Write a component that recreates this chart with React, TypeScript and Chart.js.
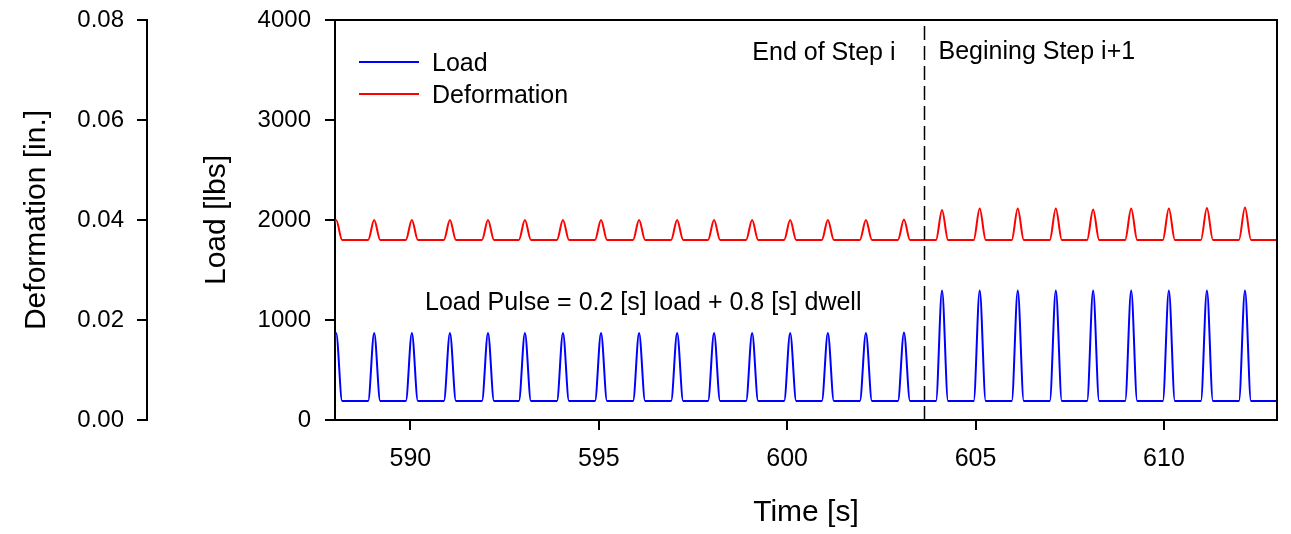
import React, { useEffect, useRef } from "react";
import { Chart, registerables } from "chart.js";

Chart.register(...registerables);

// ---------------- data ----------------
const timeTicks = [590, 595, 600, 605, 610];
const loadTicks = [0, 1000, 2000, 3000, 4000];
const deformationTicks = [0, 0.02, 0.04, 0.06, 0.08];

// peak time of each load pulse [s]
const pulseTimes = [
  588.03, 589.04, 590.04, 591.05, 592.06, 593.04, 594.05, 595.06, 596.07, 597.08,
  598.06, 599.07, 600.08, 601.08, 602.09, 603.1,
  604.11, 605.11, 606.12, 607.13, 608.12, 609.13, 610.13, 611.14, 612.15,
];
// peak load of each pulse [lbs]
const loadPeaks = [
  870, 870, 870, 870, 870, 870, 870, 870, 870, 870, 870, 870, 870, 870, 870, 875,
  1295, 1295, 1295, 1295, 1295, 1295, 1295, 1295, 1295,
];
// peak deformation of each pulse [in.]
const deformationPeaks = [
  0.04, 0.04, 0.04, 0.04, 0.04, 0.04, 0.04, 0.04, 0.04, 0.04, 0.04, 0.04, 0.04, 0.04, 0.04, 0.0401,
  0.042, 0.0423, 0.0423, 0.0423, 0.0421, 0.0423, 0.0423, 0.0424, 0.0425,
];
const loadBaseline = 190; // lbs (dwell load)
const deformationBaseline = 0.036; // in.
const pulseHalfWidth = 0.16; // s, half of pulse base
const recordStart = 587.5;
const recordEnd = 613.5;
const stepTime = 603.63; // s, change of step

const seriesNames = ["Load", "Deformation"];
const endLabel = "End of Step i";
const beginLabel = "Begining Step i+1";
const pulseNote = "Load Pulse = 0.2 [s] load + 0.8 [s] dwell";
const pulseNoteAt = { x: 590.39, y: 1100 };
const stepLabelLoad = 3600;

// ---------------- helpers ----------------
const FONT = '"Liberation Sans", Arial, Helvetica, sans-serif';

function buildSeries(base: number, peaks: number[]) {
  const pts: { x: number; y: number }[] = [{ x: recordStart, y: base }];
  pulseTimes.forEach((t, i) => {
    pts.push({ x: t - pulseHalfWidth, y: base });
    pts.push({ x: t, y: peaks[i] });
    pts.push({ x: t + pulseHalfWidth, y: base });
  });
  pts.push({ x: recordEnd, y: base });
  return pts;
}

const decorPlugin = {
  id: "decor",
  afterDatasetsDraw(chart: any) {
    const { ctx, chartArea, scales } = chart;
    const { left, right, top, bottom } = chartArea;
    ctx.save();
    // frame: top + right
    ctx.strokeStyle = "#000";
    ctx.lineWidth = 2;
    ctx.beginPath();
    ctx.moveTo(left - 1, top);
    ctx.lineTo(right, top);
    ctx.lineTo(right, bottom + 1);
    ctx.stroke();

    // dashed step line (drawn from the bottom up, so it starts solid at the axis)
    const xs = Math.round(scales.x.getPixelForValue(stepTime)) + 0.5;
    ctx.lineWidth = 1.5;
    ctx.setLineDash([14, 6]);
    ctx.beginPath();
    ctx.moveTo(xs, bottom);
    ctx.lineTo(xs, top);
    ctx.stroke();
    ctx.setLineDash([]);

    // annotations
    ctx.fillStyle = "#000";
    ctx.font = `25px ${FONT}`;
    ctx.textBaseline = "alphabetic";
    const ys = scales.y.getPixelForValue(stepLabelLoad);
    ctx.textAlign = "right";
    ctx.fillText(endLabel, xs - 29, ys);
    ctx.textAlign = "left";
    ctx.fillText(beginLabel, xs + 14, ys - 1.5);
    ctx.fillText(
      pulseNote,
      scales.x.getPixelForValue(pulseNoteAt.x),
      scales.y.getPixelForValue(pulseNoteAt.y)
    );

    // legend
    const ds = chart.data.datasets;
    ds.forEach((d: any, i: number) => {
      const y = top + 42 + i * 32;
      ctx.strokeStyle = d.borderColor;
      ctx.lineWidth = 2;
      ctx.beginPath();
      ctx.moveTo(left + 24, y);
      ctx.lineTo(left + 84, y);
      ctx.stroke();
      ctx.fillStyle = "#000";
      ctx.textAlign = "left";
      ctx.fillText(d.label, left + 97, y + 9);
    });
    ctx.restore();
  },
};

function fixSize(w: number | null, h: number | null) {
  return (s: any) => {
    if (w !== null) s.width = w;
    if (h !== null) s.height = h;
    s.paddingTop = 0;
    s.paddingBottom = 0;
    s.paddingLeft = 0;
    s.paddingRight = 0;
  };
}

export default function App() {
  const ref = useRef<HTMLCanvasElement | null>(null);

  useEffect(() => {
    if (!ref.current) return;
    const axisCommon = {
      grid: { drawOnChartArea: false, tickLength: 10, color: "#000", lineWidth: 2 },
      border: { color: "#000", width: 2 },
    };
    const chart = new Chart(ref.current, {
      type: "line",
      data: {
        datasets: [
          {
            label: seriesNames[0],
            data: buildSeries(loadBaseline, loadPeaks),
            borderColor: "#0000ff",
            borderWidth: 2,
            pointRadius: 0,
            cubicInterpolationMode: "monotone",
            yAxisID: "y",
          },
          {
            label: seriesNames[1],
            data: buildSeries(deformationBaseline, deformationPeaks),
            borderColor: "#ff0000",
            borderWidth: 2,
            pointRadius: 0,
            cubicInterpolationMode: "monotone",
            yAxisID: "yd",
          },
        ],
      },
      options: {
        animation: false,
        responsive: false,
        devicePixelRatio: 1,
        layout: { padding: { top: 20, right: 14, left: 0, bottom: 0 } },
        plugins: { legend: { display: false }, tooltip: { enabled: false } },
        events: [],
        scales: {
          x: {
            type: "linear",
            position: "bottom",
            min: 588,
            max: 613,
            afterBuildTicks: (s: any) => {
              s.ticks = timeTicks.map((value) => ({ value }));
            },
            ticks: {
              color: "#000",
              font: { family: FONT, size: 25 },
              padding: 14,
              maxRotation: 0,
              autoSkip: false,
              callback: (v: any) => String(v),
            },
            title: {
              display: true,
              text: "Time [s]",
              color: "#000",
              font: { family: FONT, size: 30 },
              padding: { top: 0, bottom: 3 },
            },
            afterFit: fixSize(null, 114),
            ...axisCommon,
          },
          y: {
            type: "linear",
            position: "left",
            weight: 0,
            min: 0,
            max: 4000,
            afterBuildTicks: (s: any) => {
              s.ticks = loadTicks.map((value) => ({ value }));
            },
            ticks: {
              color: "#000",
              font: { family: FONT, size: 24 },
              padding: 14,
              callback: (v: any) => String(v),
            },
            title: {
              display: true,
              text: "Load [lbs]",
              color: "#000",
              font: { family: FONT, size: 30 },
              padding: { top: 52, bottom: 0 },
            },
            afterFit: fixSize(188, null),
            ...axisCommon,
          },
          yd: {
            type: "linear",
            position: "left",
            weight: 1,
            min: 0,
            max: 0.08,
            afterBuildTicks: (s: any) => {
              s.ticks = deformationTicks.map((value) => ({ value }));
            },
            ticks: {
              color: "#000",
              font: { family: FONT, size: 24 },
              padding: 13,
              callback: (v: any) => Number(v).toFixed(2),
            },
            title: {
              display: true,
              text: "Deformation [in.]",
              color: "#000",
              font: { family: FONT, size: 30 },
              padding: { top: 19, bottom: 0 },
            },
            afterFit: fixSize(147, null),
            ...axisCommon,
          },
        },
      } as any,
      plugins: [decorPlugin],
    });
    return () => chart.destroy();
  }, []);

  return (
    <div style={{ position: "absolute", left: 0, top: 0, width: 1291, height: 534, background: "#fff" }}>
      <canvas ref={ref} width={1291} height={534} style={{ width: 1291, height: 534, display: "block" }} />
    </div>
  );
}
